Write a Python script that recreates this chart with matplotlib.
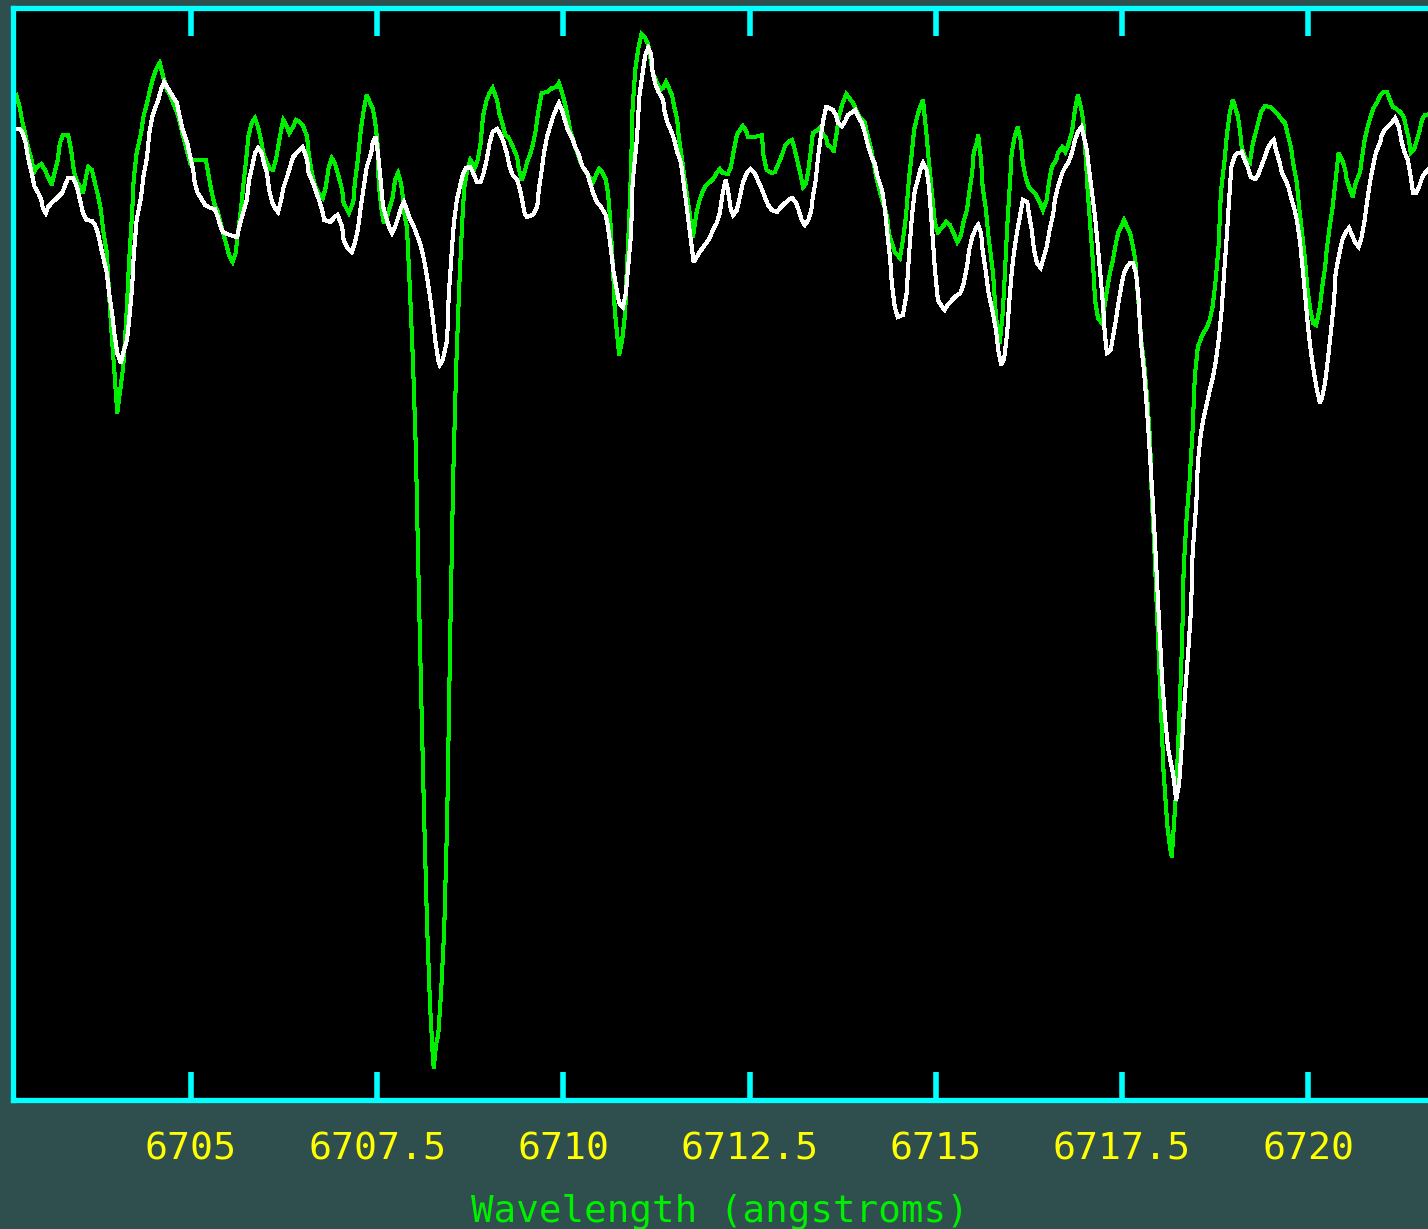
import matplotlib
matplotlib.use("Agg")
import matplotlib.pyplot as plt
from matplotlib.ticker import FixedLocator, NullLocator

# Observed spectrum (green) and synthetic comparison spectrum (white), normalized flux
wave_obs = [
    6702.62, 6702.66, 6702.70, 6702.73, 6702.77, 6702.81, 6702.86, 6702.89, 6702.93, 6702.99,
    6703.04, 6703.08, 6703.13, 6703.17, 6703.21, 6703.24, 6703.28, 6703.35, 6703.39, 6703.43,
    6703.47, 6703.52, 6703.55, 6703.59, 6703.62, 6703.67, 6703.71, 6703.75, 6703.79, 6703.82,
    6703.87, 6703.89, 6703.91, 6703.94, 6703.97, 6704.01, 6704.05, 6704.09, 6704.13, 6704.17,
    6704.21, 6704.23, 6704.27, 6704.33, 6704.36, 6704.41, 6704.45, 6704.49, 6704.54, 6704.58,
    6704.62, 6704.68, 6704.72, 6704.76, 6704.81, 6704.85, 6704.89, 6704.95, 6704.99, 6705.03,
    6705.20, 6705.24, 6705.28, 6705.32, 6705.36, 6705.43, 6705.47, 6705.51, 6705.56, 6705.60,
    6705.63, 6705.67, 6705.70, 6705.74, 6705.77, 6705.81, 6705.86, 6705.90, 6705.94, 6705.97,
    6706.02, 6706.06, 6706.10, 6706.14, 6706.17, 6706.21, 6706.24, 6706.29, 6706.32, 6706.37,
    6706.41, 6706.46, 6706.50, 6706.56, 6706.58, 6706.62, 6706.67, 6706.71, 6706.77, 6706.81,
    6706.85, 6706.89, 6706.93, 6706.97, 6707.03, 6707.05, 6707.10, 6707.12, 6707.18, 6707.20,
    6707.24, 6707.28, 6707.32, 6707.36, 6707.40, 6707.44, 6707.47, 6707.51, 6707.52, 6707.56,
    6707.59, 6707.63, 6707.67, 6707.71, 6707.74, 6707.78, 6707.82, 6707.85, 6707.87, 6707.90,
    6707.94, 6707.98, 6708.02, 6708.05, 6708.09, 6708.13, 6708.17, 6708.21, 6708.25, 6708.26,
    6708.29, 6708.32, 6708.36, 6708.40, 6708.44, 6708.48, 6708.52, 6708.56, 6708.60, 6708.64,
    6708.67, 6708.71, 6708.75, 6708.79, 6708.81, 6708.85, 6708.89, 6708.92, 6708.97, 6709.01,
    6709.05, 6709.11, 6709.14, 6709.18, 6709.22, 6709.26, 6709.30, 6709.34, 6709.38, 6709.40,
    6709.44, 6709.48, 6709.51, 6709.55, 6709.59, 6709.63, 6709.66, 6709.71, 6709.78, 6709.85,
    6709.91, 6709.94, 6709.98, 6710.02, 6710.05, 6710.09, 6710.16, 6710.22, 6710.26, 6710.33,
    6710.40, 6710.44, 6710.48, 6710.53, 6710.57, 6710.60, 6710.63, 6710.67, 6710.69, 6710.72,
    6710.75, 6710.79, 6710.83, 6710.85, 6710.88, 6710.91, 6710.93, 6710.97, 6711.01, 6711.05,
    6711.10, 6711.14, 6711.16, 6711.20, 6711.26, 6711.30, 6711.34, 6711.38, 6711.41, 6711.46,
    6711.49, 6711.53, 6711.55, 6711.59, 6711.63, 6711.69, 6711.74, 6711.79, 6711.83, 6711.88,
    6711.92, 6711.97, 6712.01, 6712.06, 6712.10, 6712.14, 6712.21, 6712.25, 6712.29, 6712.33,
    6712.37, 6712.41, 6712.45, 6712.48, 6712.57, 6712.67, 6712.68, 6712.73, 6712.80, 6712.84,
    6712.87, 6712.91, 6712.95, 6712.98, 6713.02, 6713.07, 6713.10, 6713.14, 6713.18, 6713.22,
    6713.26, 6713.29, 6713.33, 6713.35, 6713.41, 6713.45, 6713.49, 6713.53, 6713.55, 6713.61,
    6713.63, 6713.67, 6713.70, 6713.75, 6713.80, 6713.84, 6713.89, 6713.92, 6713.98, 6714.05,
    6714.09, 6714.13, 6714.16, 6714.21, 6714.25, 6714.29, 6714.35, 6714.37, 6714.41, 6714.45,
    6714.52, 6714.56, 6714.60, 6714.64, 6714.68, 6714.71, 6714.75, 6714.79, 6714.83, 6714.88,
    6714.91, 6714.96, 6714.99, 6715.03, 6715.08, 6715.14, 6715.19, 6715.24, 6715.29, 6715.34,
    6715.37, 6715.42, 6715.45, 6715.49, 6715.51, 6715.55, 6715.57, 6715.61, 6715.63, 6715.67,
    6715.71, 6715.77, 6715.80, 6715.82, 6715.86, 6715.90, 6715.93, 6715.96, 6716.00, 6716.02,
    6716.06, 6716.10, 6716.14, 6716.17, 6716.21, 6716.25, 6716.31, 6716.35, 6716.40, 6716.44,
    6716.49, 6716.52, 6716.56, 6716.62, 6716.64, 6716.70, 6716.74, 6716.78, 6716.83, 6716.87,
    6716.91, 6716.95, 6716.98, 6717.02, 6717.04, 6717.07, 6717.11, 6717.14, 6717.18, 6717.23,
    6717.26, 6717.30, 6717.34, 6717.38, 6717.41, 6717.45, 6717.50, 6717.53, 6717.57, 6717.61,
    6717.65, 6717.68, 6717.72, 6717.76, 6717.80, 6717.84, 6717.88, 6717.90, 6717.94, 6717.98,
    6718.02, 6718.06, 6718.11, 6718.15, 6718.17, 6718.23, 6718.27, 6718.31, 6718.33, 6718.37,
    6718.41, 6718.45, 6718.48, 6718.52, 6718.56, 6718.60, 6718.64, 6718.68, 6718.72, 6718.76,
    6718.80, 6718.83, 6718.88, 6718.91, 6718.95, 6718.99, 6719.02, 6719.06, 6719.09, 6719.11,
    6719.15, 6719.22, 6719.26, 6719.30, 6719.34, 6719.37, 6719.42, 6719.49, 6719.54, 6719.60,
    6719.64, 6719.69, 6719.73, 6719.77, 6719.80, 6719.85, 6719.88, 6719.92, 6719.96, 6719.99,
    6720.03, 6720.07, 6720.11, 6720.16, 6720.19, 6720.23, 6720.25, 6720.29, 6720.33, 6720.37,
    6720.41, 6720.46, 6720.50, 6720.52, 6720.58, 6720.60, 6720.64, 6720.70, 6720.72, 6720.76,
    6720.80, 6720.84, 6720.88, 6720.93, 6720.97, 6721.01, 6721.06, 6721.10, 6721.14, 6721.19,
    6721.25, 6721.29, 6721.31, 6721.35, 6721.38, 6721.42, 6721.45, 6721.49, 6721.53, 6721.57,
    6721.61, 6721.66,
]
flux_obs = [
    0.997, 1.003, 0.993, 0.980, 0.967, 0.953, 0.940, 0.928, 0.933, 0.936,
    0.930, 0.923, 0.915, 0.928, 0.940, 0.957, 0.965, 0.965, 0.950, 0.928,
    0.918, 0.912, 0.907, 0.923, 0.933, 0.930, 0.917, 0.905, 0.890, 0.870,
    0.847, 0.820, 0.793, 0.760, 0.730, 0.687, 0.710, 0.733, 0.780, 0.840,
    0.887, 0.920, 0.947, 0.967, 0.983, 0.997, 1.010, 1.022, 1.032, 1.037,
    1.025, 1.010, 1.005, 0.997, 0.988, 0.978, 0.965, 0.948, 0.937, 0.940,
    0.940, 0.923, 0.907, 0.895, 0.888, 0.867, 0.857, 0.845, 0.838, 0.847,
    0.867, 0.890, 0.913, 0.940, 0.963, 0.976, 0.982, 0.973, 0.960, 0.947,
    0.937, 0.931, 0.930, 0.940, 0.953, 0.970, 0.980, 0.973, 0.967, 0.973,
    0.980, 0.978, 0.975, 0.963, 0.947, 0.928, 0.913, 0.907, 0.902, 0.913,
    0.933, 0.942, 0.937, 0.927, 0.910, 0.897, 0.890, 0.887, 0.898, 0.917,
    0.940, 0.970, 0.990, 1.005, 0.998, 0.992, 0.980, 0.953, 0.917, 0.890,
    0.877, 0.883, 0.893, 0.903, 0.920, 0.927, 0.917, 0.900, 0.883, 0.873,
    0.810, 0.740, 0.650, 0.540, 0.410, 0.285, 0.175, 0.095, 0.040, 0.032,
    0.055, 0.065, 0.110, 0.170, 0.280, 0.460, 0.620, 0.730, 0.810, 0.875,
    0.913, 0.930, 0.940, 0.935, 0.932, 0.940, 0.957, 0.983, 1.000, 1.007,
    1.012, 1.000, 0.987, 0.977, 0.965, 0.963, 0.957, 0.950, 0.943, 0.932,
    0.920, 0.928, 0.937, 0.945, 0.955, 0.970, 0.987, 1.007, 1.008, 1.012,
    1.013, 1.017, 1.008, 0.997, 0.987, 0.970, 0.953, 0.940, 0.933, 0.925,
    0.918, 0.925, 0.931, 0.927, 0.920, 0.907, 0.880, 0.827, 0.790, 0.767,
    0.745, 0.760, 0.787, 0.827, 0.873, 0.933, 0.993, 1.033, 1.053, 1.066,
    1.062, 1.055, 1.047, 1.027, 1.017, 1.010, 1.012, 1.018, 1.013, 1.005,
    0.993, 0.980, 0.963, 0.943, 0.920, 0.890, 0.863, 0.888, 0.900, 0.910,
    0.915, 0.918, 0.921, 0.927, 0.931, 0.927, 0.926, 0.933, 0.950, 0.965,
    0.970, 0.974, 0.970, 0.963, 0.963, 0.965, 0.947, 0.930, 0.927, 0.928,
    0.933, 0.940, 0.948, 0.955, 0.958, 0.960, 0.953, 0.940, 0.927, 0.913,
    0.917, 0.930, 0.953, 0.967, 0.970, 0.973, 0.965, 0.962, 0.955, 0.952,
    0.948, 0.967, 0.983, 0.997, 1.006, 1.002, 0.997, 0.992, 0.983, 0.977,
    0.963, 0.952, 0.940, 0.920, 0.908, 0.898, 0.883, 0.867, 0.857, 0.848,
    0.842, 0.860, 0.883, 0.920, 0.947, 0.970, 0.983, 0.993, 1.000, 0.963,
    0.937, 0.900, 0.877, 0.868, 0.872, 0.878, 0.875, 0.867, 0.858, 0.865,
    0.877, 0.890, 0.907, 0.927, 0.947, 0.957, 0.965, 0.940, 0.913, 0.893,
    0.863, 0.827, 0.793, 0.777, 0.757, 0.787, 0.827, 0.873, 0.920, 0.947,
    0.963, 0.973, 0.960, 0.937, 0.922, 0.913, 0.908, 0.905, 0.897, 0.890,
    0.900, 0.917, 0.933, 0.940, 0.947, 0.953, 0.948, 0.955, 0.968, 0.990,
    1.005, 0.993, 0.980, 0.937, 0.910, 0.880, 0.840, 0.800, 0.782, 0.777,
    0.790, 0.810, 0.827, 0.840, 0.853, 0.867, 0.875, 0.880, 0.873, 0.867,
    0.853, 0.840, 0.800, 0.760, 0.735, 0.702, 0.658, 0.606, 0.545, 0.472,
    0.400, 0.328, 0.275, 0.251, 0.243, 0.310, 0.380, 0.460, 0.532, 0.582,
    0.620, 0.670, 0.724, 0.753, 0.761, 0.768, 0.772, 0.780, 0.794, 0.820,
    0.855, 0.908, 0.940, 0.965, 0.988, 1.000, 0.993, 0.983, 0.967, 0.952,
    0.943, 0.938, 0.957, 0.968, 0.980, 0.988, 0.994, 0.993, 0.990, 0.985,
    0.981, 0.977, 0.965, 0.953, 0.937, 0.917, 0.893, 0.867, 0.840, 0.813,
    0.790, 0.777, 0.775, 0.793, 0.813, 0.833, 0.850, 0.873, 0.893, 0.920,
    0.947, 0.940, 0.930, 0.920, 0.907, 0.903, 0.917, 0.928, 0.940, 0.960,
    0.973, 0.983, 0.992, 0.998, 1.005, 1.008, 1.008, 1.000, 0.993, 0.991,
    0.987, 0.982, 0.975, 0.962, 0.947, 0.950, 0.957, 0.967, 0.980, 0.985,
    0.985, 0.988,
]

wave_syn = [
    6702.61, 6702.70, 6702.74, 6702.78, 6702.81, 6702.86, 6702.90, 6702.95, 6702.99, 6703.01,
    6703.05, 6703.08, 6703.13, 6703.20, 6703.27, 6703.31, 6703.35, 6703.42, 6703.47, 6703.51,
    6703.55, 6703.60, 6703.67, 6703.71, 6703.75, 6703.79, 6703.83, 6703.87, 6703.90, 6703.94,
    6703.97, 6704.01, 6704.06, 6704.09, 6704.14, 6704.17, 6704.21, 6704.23, 6704.27, 6704.33,
    6704.36, 6704.41, 6704.44, 6704.48, 6704.52, 6704.56, 6704.60, 6704.64, 6704.68, 6704.72,
    6704.76, 6704.81, 6704.85, 6704.89, 6704.95, 6704.99, 6705.03, 6705.05, 6705.09, 6705.15,
    6705.19, 6705.26, 6705.32, 6705.36, 6705.40, 6705.43, 6705.52, 6705.62, 6705.66, 6705.70,
    6705.75, 6705.78, 6705.82, 6705.86, 6705.90, 6705.95, 6705.98, 6706.02, 6706.05, 6706.09,
    6706.13, 6706.17, 6706.21, 6706.24, 6706.29, 6706.33, 6706.37, 6706.42, 6706.46, 6706.50,
    6706.56, 6706.58, 6706.64, 6706.68, 6706.72, 6706.76, 6706.79, 6706.87, 6706.93, 6706.97,
    6707.03, 6707.05, 6707.10, 6707.16, 6707.20, 6707.24, 6707.28, 6707.32, 6707.36, 6707.42,
    6707.44, 6707.48, 6707.51, 6707.55, 6707.58, 6707.62, 6707.66, 6707.70, 6707.74, 6707.78,
    6707.82, 6707.86, 6707.90, 6707.93, 6707.97, 6708.01, 6708.05, 6708.09, 6708.13, 6708.17,
    6708.21, 6708.25, 6708.28, 6708.32, 6708.34, 6708.38, 6708.44, 6708.46, 6708.50, 6708.53,
    6708.57, 6708.61, 6708.65, 6708.69, 6708.75, 6708.79, 6708.84, 6708.89, 6708.93, 6708.97,
    6709.01, 6709.05, 6709.11, 6709.16, 6709.20, 6709.24, 6709.28, 6709.32, 6709.38, 6709.42,
    6709.46, 6709.48, 6709.51, 6709.59, 6709.65, 6709.67, 6709.71, 6709.74, 6709.78, 6709.82,
    6709.86, 6709.91, 6709.94, 6709.98, 6710.02, 6710.06, 6710.12, 6710.16, 6710.20, 6710.22,
    6710.26, 6710.32, 6710.36, 6710.40, 6710.45, 6710.49, 6710.53, 6710.57, 6710.60, 6710.64,
    6710.67, 6710.71, 6710.75, 6710.80, 6710.84, 6710.87, 6710.91, 6710.93, 6710.99, 6711.02,
    6711.07, 6711.10, 6711.14, 6711.18, 6711.20, 6711.24, 6711.28, 6711.34, 6711.36, 6711.40,
    6711.46, 6711.49, 6711.53, 6711.58, 6711.61, 6711.65, 6711.69, 6711.73, 6711.75, 6711.79,
    6711.83, 6711.88, 6711.93, 6711.97, 6712.01, 6712.06, 6712.10, 6712.14, 6712.18, 6712.21,
    6712.25, 6712.28, 6712.33, 6712.37, 6712.41, 6712.47, 6712.51, 6712.57, 6712.61, 6712.67,
    6712.71, 6712.75, 6712.80, 6712.87, 6712.91, 6712.98, 6713.02, 6713.07, 6713.12, 6713.16,
    6713.20, 6713.24, 6713.29, 6713.33, 6713.35, 6713.39, 6713.42, 6713.46, 6713.49, 6713.53,
    6713.57, 6713.62, 6713.66, 6713.69, 6713.74, 6713.78, 6713.82, 6713.88, 6713.92, 6713.96,
    6714.01, 6714.05, 6714.09, 6714.14, 6714.18, 6714.22, 6714.28, 6714.32, 6714.35, 6714.39,
    6714.41, 6714.45, 6714.49, 6714.56, 6714.61, 6714.64, 6714.68, 6714.72, 6714.76, 6714.80,
    6714.83, 6714.88, 6714.91, 6714.95, 6714.99, 6715.03, 6715.07, 6715.12, 6715.16, 6715.22,
    6715.27, 6715.33, 6715.37, 6715.42, 6715.45, 6715.49, 6715.54, 6715.57, 6715.61, 6715.63,
    6715.67, 6715.71, 6715.76, 6715.81, 6715.84, 6715.88, 6715.92, 6715.96, 6715.99, 6716.02,
    6716.05, 6716.09, 6716.13, 6716.17, 6716.23, 6716.25, 6716.29, 6716.32, 6716.36, 6716.41,
    6716.44, 6716.49, 6716.53, 6716.58, 6716.60, 6716.64, 6716.70, 6716.74, 6716.78, 6716.83,
    6716.87, 6716.91, 6716.96, 6716.99, 6717.03, 6717.06, 6717.10, 6717.14, 6717.17, 6717.21,
    6717.25, 6717.27, 6717.30, 6717.35, 6717.38, 6717.42, 6717.46, 6717.50, 6717.53, 6717.57,
    6717.61, 6717.65, 6717.69, 6717.72, 6717.76, 6717.80, 6717.84, 6717.88, 6717.92, 6717.96,
    6718.00, 6718.04, 6718.08, 6718.12, 6718.19, 6718.23, 6718.27, 6718.31, 6718.35, 6718.39,
    6718.43, 6718.45, 6718.50, 6718.52, 6718.56, 6718.60, 6718.64, 6718.68, 6718.72, 6718.76,
    6718.80, 6718.84, 6718.87, 6718.91, 6718.94, 6718.97, 6719.01, 6719.05, 6719.09, 6719.11,
    6719.15, 6719.19, 6719.23, 6719.29, 6719.33, 6719.37, 6719.42, 6719.46, 6719.50, 6719.54,
    6719.57, 6719.62, 6719.65, 6719.70, 6719.74, 6719.77, 6719.81, 6719.85, 6719.89, 6719.93,
    6719.97, 6720.00, 6720.04, 6720.08, 6720.12, 6720.16, 6720.19, 6720.23, 6720.27, 6720.31,
    6720.35, 6720.37, 6720.43, 6720.46, 6720.50, 6720.55, 6720.59, 6720.63, 6720.68, 6720.72,
    6720.76, 6720.79, 6720.83, 6720.87, 6720.91, 6720.97, 6720.99, 6721.03, 6721.09, 6721.13,
    6721.17, 6721.22, 6721.26, 6721.30, 6721.34, 6721.38, 6721.41, 6721.45, 6721.49, 6721.53,
    6721.57, 6721.61, 6721.66,
]
flux_syn = [
    0.971, 0.971, 0.967, 0.957, 0.943, 0.927, 0.913, 0.907, 0.900, 0.892,
    0.887, 0.893, 0.897, 0.902, 0.907, 0.915, 0.922, 0.922, 0.913, 0.900,
    0.887, 0.880, 0.879, 0.875, 0.867, 0.853, 0.840, 0.827, 0.807, 0.787,
    0.767, 0.747, 0.737, 0.747, 0.760, 0.780, 0.813, 0.843, 0.880, 0.903,
    0.923, 0.943, 0.967, 0.983, 0.992, 1.000, 1.011, 1.018, 1.013, 1.008,
    1.003, 0.997, 0.983, 0.970, 0.957, 0.943, 0.930, 0.917, 0.907, 0.900,
    0.895, 0.892, 0.891, 0.883, 0.873, 0.868, 0.865, 0.863, 0.877, 0.887,
    0.900, 0.920, 0.933, 0.947, 0.952, 0.947, 0.937, 0.927, 0.910, 0.898,
    0.892, 0.888, 0.900, 0.912, 0.923, 0.933, 0.943, 0.947, 0.950, 0.953,
    0.940, 0.927, 0.917, 0.908, 0.900, 0.890, 0.880, 0.878, 0.883, 0.885,
    0.873, 0.860, 0.852, 0.848, 0.857, 0.870, 0.893, 0.913, 0.933, 0.947,
    0.957, 0.963, 0.947, 0.917, 0.893, 0.883, 0.873, 0.867, 0.873, 0.882,
    0.892, 0.898, 0.890, 0.883, 0.877, 0.870, 0.862, 0.853, 0.840, 0.823,
    0.803, 0.780, 0.760, 0.740, 0.735, 0.740, 0.760, 0.803, 0.847, 0.877,
    0.900, 0.913, 0.925, 0.932, 0.933, 0.927, 0.918, 0.918, 0.927, 0.940,
    0.957, 0.968, 0.971, 0.965, 0.957, 0.947, 0.933, 0.925, 0.920, 0.910,
    0.895, 0.887, 0.883, 0.885, 0.893, 0.910, 0.930, 0.947, 0.963, 0.973,
    0.983, 0.992, 0.997, 0.990, 0.980, 0.970, 0.962, 0.953, 0.947, 0.942,
    0.933, 0.927, 0.917, 0.907, 0.898, 0.895, 0.890, 0.885, 0.873, 0.850,
    0.830, 0.813, 0.797, 0.793, 0.807, 0.833, 0.867, 0.917, 0.963, 1.003,
    1.030, 1.045, 1.052, 1.045, 1.027, 1.015, 1.008, 1.000, 0.988, 0.977,
    0.967, 0.960, 0.948, 0.937, 0.920, 0.897, 0.873, 0.850, 0.838, 0.843,
    0.848, 0.853, 0.858, 0.863, 0.870, 0.877, 0.887, 0.907, 0.920, 0.910,
    0.890, 0.885, 0.890, 0.903, 0.917, 0.928, 0.931, 0.927, 0.920, 0.910,
    0.902, 0.895, 0.890, 0.888, 0.892, 0.897, 0.900, 0.902, 0.898, 0.890,
    0.880, 0.875, 0.880, 0.890, 0.903, 0.920, 0.943, 0.965, 0.980, 0.993,
    0.992, 0.990, 0.985, 0.977, 0.974, 0.978, 0.985, 0.988, 0.990, 0.983,
    0.977, 0.967, 0.955, 0.943, 0.937, 0.923, 0.910, 0.890, 0.867, 0.840,
    0.817, 0.793, 0.783, 0.785, 0.807, 0.843, 0.883, 0.910, 0.920, 0.932,
    0.937, 0.930, 0.913, 0.873, 0.830, 0.800, 0.795, 0.790, 0.795, 0.800,
    0.804, 0.807, 0.815, 0.833, 0.850, 0.863, 0.872, 0.875, 0.867, 0.850,
    0.830, 0.807, 0.790, 0.770, 0.750, 0.735, 0.742, 0.767, 0.800, 0.827,
    0.847, 0.867, 0.883, 0.900, 0.898, 0.887, 0.870, 0.850, 0.837, 0.832,
    0.840, 0.853, 0.870, 0.887, 0.900, 0.913, 0.927, 0.933, 0.937, 0.947,
    0.960, 0.968, 0.973, 0.963, 0.950, 0.930, 0.907, 0.883, 0.860, 0.827,
    0.793, 0.767, 0.747, 0.750, 0.763, 0.780, 0.800, 0.817, 0.827, 0.833,
    0.837, 0.837, 0.827, 0.805, 0.755, 0.727, 0.688, 0.642, 0.592, 0.537,
    0.477, 0.421, 0.382, 0.352, 0.325, 0.300, 0.317, 0.361, 0.408, 0.447,
    0.492, 0.547, 0.597, 0.637, 0.666, 0.683, 0.696, 0.710, 0.722, 0.738,
    0.760, 0.790, 0.824, 0.865, 0.900, 0.933, 0.943, 0.947, 0.947, 0.948,
    0.940, 0.933, 0.923, 0.921, 0.925, 0.933, 0.943, 0.952, 0.957, 0.960,
    0.950, 0.937, 0.927, 0.920, 0.912, 0.903, 0.893, 0.880, 0.860, 0.830,
    0.797, 0.773, 0.747, 0.727, 0.710, 0.697, 0.703, 0.718, 0.743, 0.770,
    0.800, 0.827, 0.850, 0.860, 0.867, 0.872, 0.865, 0.858, 0.853, 0.863,
    0.880, 0.897, 0.917, 0.933, 0.947, 0.958, 0.965, 0.970, 0.975, 0.978,
    0.982, 0.973, 0.957, 0.947, 0.940, 0.923, 0.907, 0.907, 0.913, 0.922,
    0.927, 0.930, 0.934,
]

tick_values = [6705, 6707.5, 6710, 6712.5, 6715, 6717.5, 6720]
tick_labels = ["6705", "6707.5", "6710", "6712.5", "6715", "6717.5", "6720"]
x_label = "Wavelength (angstroms)"

BG = "#2F4F4F"
FRAME = "#00FFFF"
GREEN = "#00EE00"
YELLOW = "#FFFF00"

W, H = 1428, 1229
fig = plt.figure(figsize=(W / 100, H / 100), dpi=100, facecolor=BG)

# Plot box: left edge at x=13 px, bottom at 1100 px, right edge past the figure border
x0, x1 = 6702.61, 6721.80
px_per_A = 74.47
left_px, bottom_px, top_px = 13, 1100, 7.5
width_px = (x1 - x0) * px_per_A
ax = fig.add_axes([left_px / W, (H - bottom_px) / H, width_px / W, (bottom_px - top_px) / H])
ax.set_facecolor("black")
ax.set_xlim(x0, x1)
ax.set_ylim(0.0, 1.1 - top_px / 1000)

ax.plot(wave_obs, flux_obs, color=GREEN, lw=2.2, antialiased=False, solid_joinstyle="miter")
ax.plot(wave_syn, flux_syn, color="white", lw=2.2, antialiased=False, solid_joinstyle="miter")

for s in ax.spines.values():
    s.set_color(FRAME)
    s.set_linewidth(3.8)

ax.xaxis.set_major_locator(FixedLocator(tick_values))
ax.set_xticklabels(tick_labels)
ax.yaxis.set_major_locator(NullLocator())
ax.tick_params(axis="x", which="major", direction="in", length=20.5, width=4.0,
               color=FRAME, top=True, bottom=True, labelcolor=YELLOW, labelsize=27.5,
               pad=22.5)
for lab in ax.get_xticklabels():
    lab.set_fontfamily("DejaVu Sans Mono")

fig.text(720 / W, (H - 1222) / H, x_label, color=GREEN, fontsize=27,
         family="DejaVu Sans Mono", ha="center", va="baseline")

fig.savefig("out.png", dpi=100, facecolor=BG)
